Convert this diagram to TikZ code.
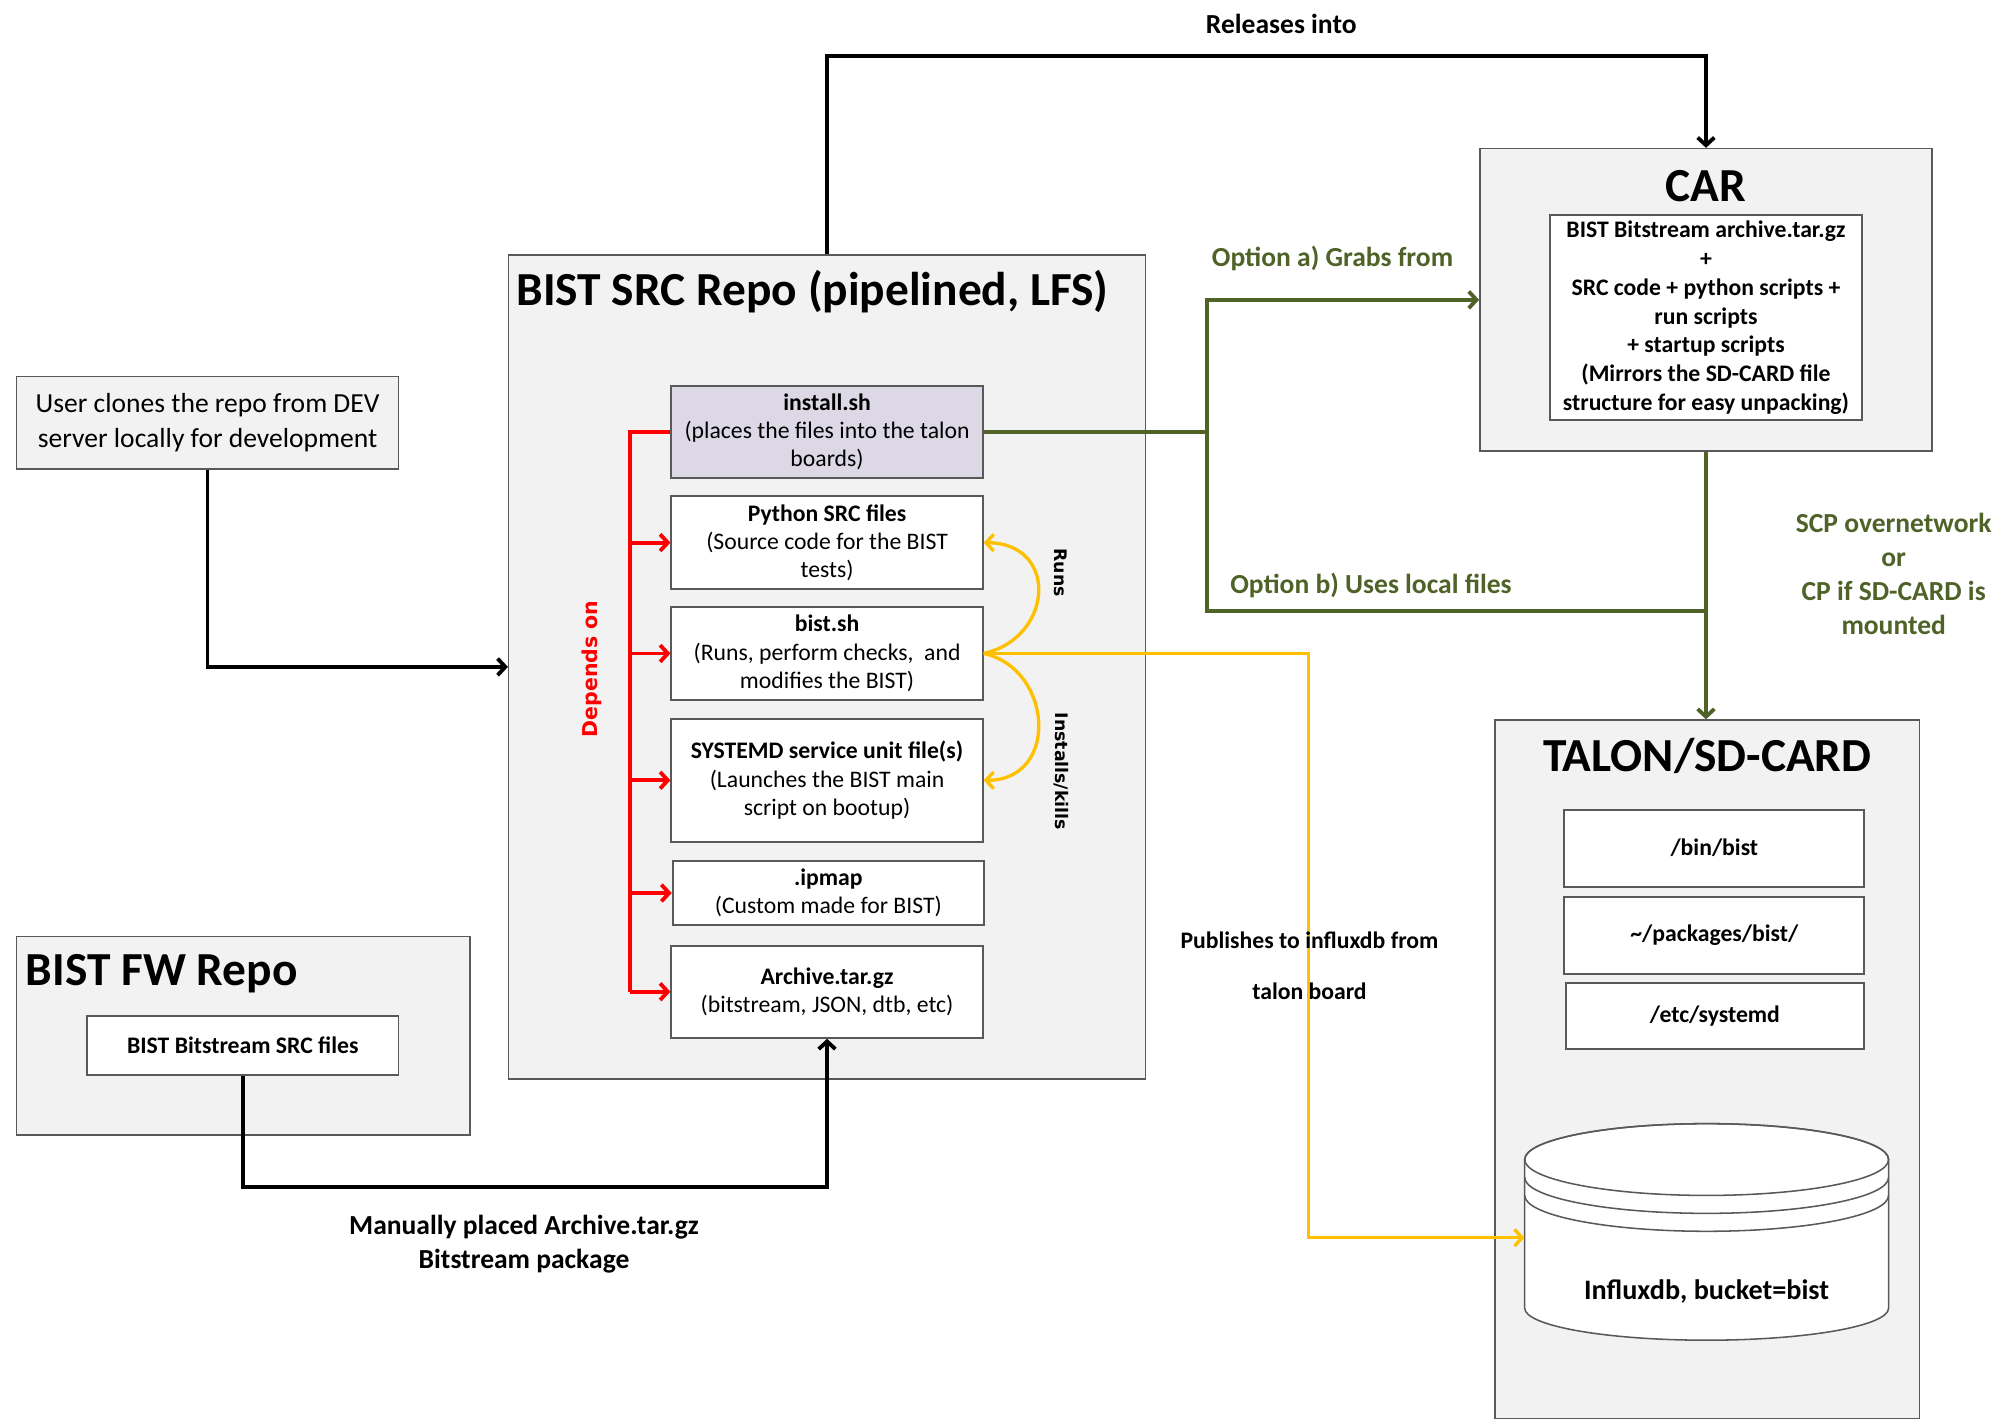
\documentclass[tikz,border=0pt]{standalone}
\usepackage{fontspec}
\setmainfont{Carlito}
\newfontfamily\verd{DejaVu Sans}
\usetikzlibrary{arrows.meta}
\definecolor{boxfill}{HTML}{F2F2F2}
\definecolor{boxline}{HTML}{595959}
\definecolor{lav}{HTML}{DCD8E6}
\definecolor{olivec}{HTML}{4F6228}
\definecolor{amber}{HTML}{FFC000}
\definecolor{redc}{HTML}{FF0000}
\begin{document}
\begin{tikzpicture}[x=1pt,y=-1pt,
  >={Straight Barb[length=6pt,width=13pt]},
  outerbox/.style={draw=boxline, fill=boxfill, line width=1.2pt, inner sep=0pt, rectangle},
  filebox/.style={draw=boxline, fill=white, line width=1.5pt, inner sep=0pt, align=center, font=\fontsize{18.5}{22}\selectfont},
  titletext/.style={font=\fontsize{37}{44}\selectfont\bfseries, inner sep=0pt},
  lbl/.style={font=\fontsize{21.5}{26.5}\selectfont\bfseries, inner sep=0pt, align=center},
  smalllbl/.style={font=\fontsize{18.5}{22}\selectfont\bfseries, inner sep=0pt, align=center},
  blkline/.style={line width=3pt, black},
  redline/.style={line width=3pt, redc},
  yelline/.style={line width=2.6pt, amber},
  grnline/.style={line width=3pt, olivec},
  vlbl/.style={font=\verd\bfseries\fontsize{13.5}{16}\selectfont, inner sep=0pt}
]
\useasboundingbox (0,0) rectangle (1568,1108.3);
\fill[white] (0,0) rectangle (1568,1108.3);

% ---------- outer boxes ----------
\node[outerbox, minimum width=497pt, minimum height=643pt] (srcrepo) at (645.5,520.5) {};
\node[titletext, anchor=west] (srctitle) at (403,228) {BIST SRC Repo (pipelined, LFS)};

\node[outerbox, minimum width=298pt, minimum height=72pt, align=center,
      font=\fontsize{21.5}{27}\selectfont] (user) at (162,330)
      {User clones the repo from DEV\\server locally for development};

\node[outerbox, minimum width=354pt, minimum height=155pt] (fwrepo) at (190,808.5) {};
\node[titletext, anchor=west] (fwtitle) at (20,760) {BIST FW Repo};
\node[filebox, minimum width=243pt, minimum height=46pt, font=\fontsize{18.5}{22}\selectfont\bfseries] (bitsrc) at (189.5,816) {BIST Bitstream SRC files};

\node[outerbox, minimum width=353pt, minimum height=236pt] (car) at (1331.5,234) {};
\node[titletext] (cartitle) at (1331.5,145) {CAR};
\node[filebox, minimum width=243pt, minimum height=160pt, font=\fontsize{18.5}{22.4}\selectfont\bfseries] (carinner) at (1331.5,248)
  {BIST Bitstream archive.tar.gz\\+\\SRC code + python scripts +\\run scripts\\+ startup scripts\\(Mirrors the SD-CARD file\\structure for easy unpacking)};

\node[outerbox, minimum width=331pt, minimum height=545pt] (talon) at (1332.5,834.5) {};
\node[titletext] (talontitle) at (1332.5,590) {TALON/SD-CARD};
\node[filebox, minimum width=234pt, minimum height=60pt, font=\fontsize{18.5}{22}\selectfont\bfseries] (binbist) at (1338,662) {/bin/bist};
\node[filebox, minimum width=234pt, minimum height=60pt, font=\fontsize{18.5}{22}\selectfont\bfseries] (pkgs) at (1338,730) {\char`~/packages/bist/};
\node[filebox, minimum width=233pt, minimum height=52pt, font=\fontsize{18.5}{22}\selectfont\bfseries] (etcsd) at (1338.5,793) {/etc/systemd};

% cylinder
\filldraw[fill=white, draw=boxline, line width=1.2pt]
  (1190,905) -- (1190,1021) arc[start angle=180, end angle=360, x radius=142pt, y radius=25pt]
  -- (1474,905) arc[start angle=0, end angle=180, x radius=142pt, y radius=28pt] -- cycle;
\draw[boxline, line width=1.2pt] (1332,905) ellipse[x radius=142pt, y radius=28pt];
\draw[boxline, line width=1.2pt] (1190,919) arc[start angle=180, end angle=360, x radius=142pt, y radius=28pt];
\draw[boxline, line width=1.2pt] (1190,933) arc[start angle=180, end angle=360, x radius=142pt, y radius=28pt];
\node[minimum width=284pt, minimum height=168pt, inner sep=0pt] (db) at (1332,966) {};
\node[font=\fontsize{22}{26}\selectfont\bfseries, inner sep=0pt] (dbtext) at (1332,1008) {Influxdb, bucket=bist};

% ---------- inner file boxes ----------
\node[filebox, fill=lav, minimum width=243pt, minimum height=72pt] (install) at (645.5,337)
  {\textbf{install.sh}\\(places the files into the talon\\boards)};
\node[filebox, minimum width=243pt, minimum height=73pt] (python) at (645.5,423.5)
  {\textbf{Python SRC files}\\(Source code for the BIST\\tests)};
\node[filebox, minimum width=243pt, minimum height=72pt] (bistsh) at (645.5,510)
  {\textbf{bist.sh}\\(Runs, perform checks,\ \ and\\modifies the BIST)};
\node[filebox, minimum width=243pt, minimum height=96pt] (systemd) at (645.5,609)
  {\textbf{SYSTEMD service unit file(s)}\\(Launches the BIST main\\script on bootup)};
\node[filebox, minimum width=243pt, minimum height=50pt] (ipmap) at (646.5,697)
  {\textbf{.ipmap}\\(Custom made for BIST)};
\node[filebox, minimum width=243pt, minimum height=72pt] (archive) at (645.5,774)
  {\textbf{Archive.tar.gz}\\(bitstream, JSON, dtb, etc)};

% ---------- black connectors ----------
\draw[blkline, ->] (srcrepo.north) -- ++(0,-155) -| (car.north);
\draw[blkline, ->] (user.south) |- (srcrepo.west);
\draw[blkline, ->] (bitsrc.south) -- ++(0,87) -| (archive.south);

% ---------- red dependency tree ----------
\coordinate (rtop) at (492,337);
\coordinate (rbot) at (492,774);
\draw[redline] (install.west) -- (rtop) -- (rbot);
\draw[redline, ->] (rbot) -- (archive.west);
\draw[redline, ->] (rtop |- python.west) -- (python.west);
\draw[redline, ->] (rtop |- bistsh.west) -- (bistsh.west);
\draw[redline, ->] (rtop |- systemd.west) -- (systemd.west);
\draw[redline, ->] (rtop |- ipmap.west) -- (ipmap.west);
\node[vlbl, font=\verd\bfseries\fontsize{16}{18}\selectfont, text=redc, rotate=90] (depends) at (462,522) {Depends on};

% ---------- yellow connectors ----------
\draw[yelline, ->] (bistsh.east) .. controls (822,498) and (827,424) .. (python.east);
\draw[yelline, ->] (bistsh.east) .. controls (822,522) and (827,609) .. (systemd.east);
\draw[yelline, ->] (bistsh.east) -- (1021,510) |- (db.west);
\node[vlbl, rotate=-90] (runs) at (828,447) {Runs};
\node[vlbl, rotate=-90] (installs) at (828,602) {Installs/kills};
\node[smalllbl] (pub1) at (1022,734) {Publishes to influxdb from};
\node[smalllbl] (pub2) at (1022,774) {talon board};

% ---------- green connectors ----------
\coordinate (gj) at (942,337);
\draw[grnline] (install.east) -- (gj);
\draw[grnline, ->] (gj) |- (car.west);
\draw[grnline] (gj) |- (car.south |- 0,477);
\draw[grnline, ->] (car.south) -- (car.south |- talon.north);

% ---------- labels ----------
\node[lbl] (releases) at (1000,19) {Releases into};
\node[lbl, text=olivec] (opta) at (1040,202) {Option a) Grabs from};
\node[lbl, text=olivec] (optb) at (1070,457) {Option b) Uses local files};
\node[lbl, text=olivec] (scp) at (1478,448) {SCP overnetwork\\or\\CP if SD-CARD is\\mounted};
\node[lbl] (manual) at (409,971) {Manually placed Archive.tar.gz\\Bitstream package};
\end{tikzpicture}
\end{document}
